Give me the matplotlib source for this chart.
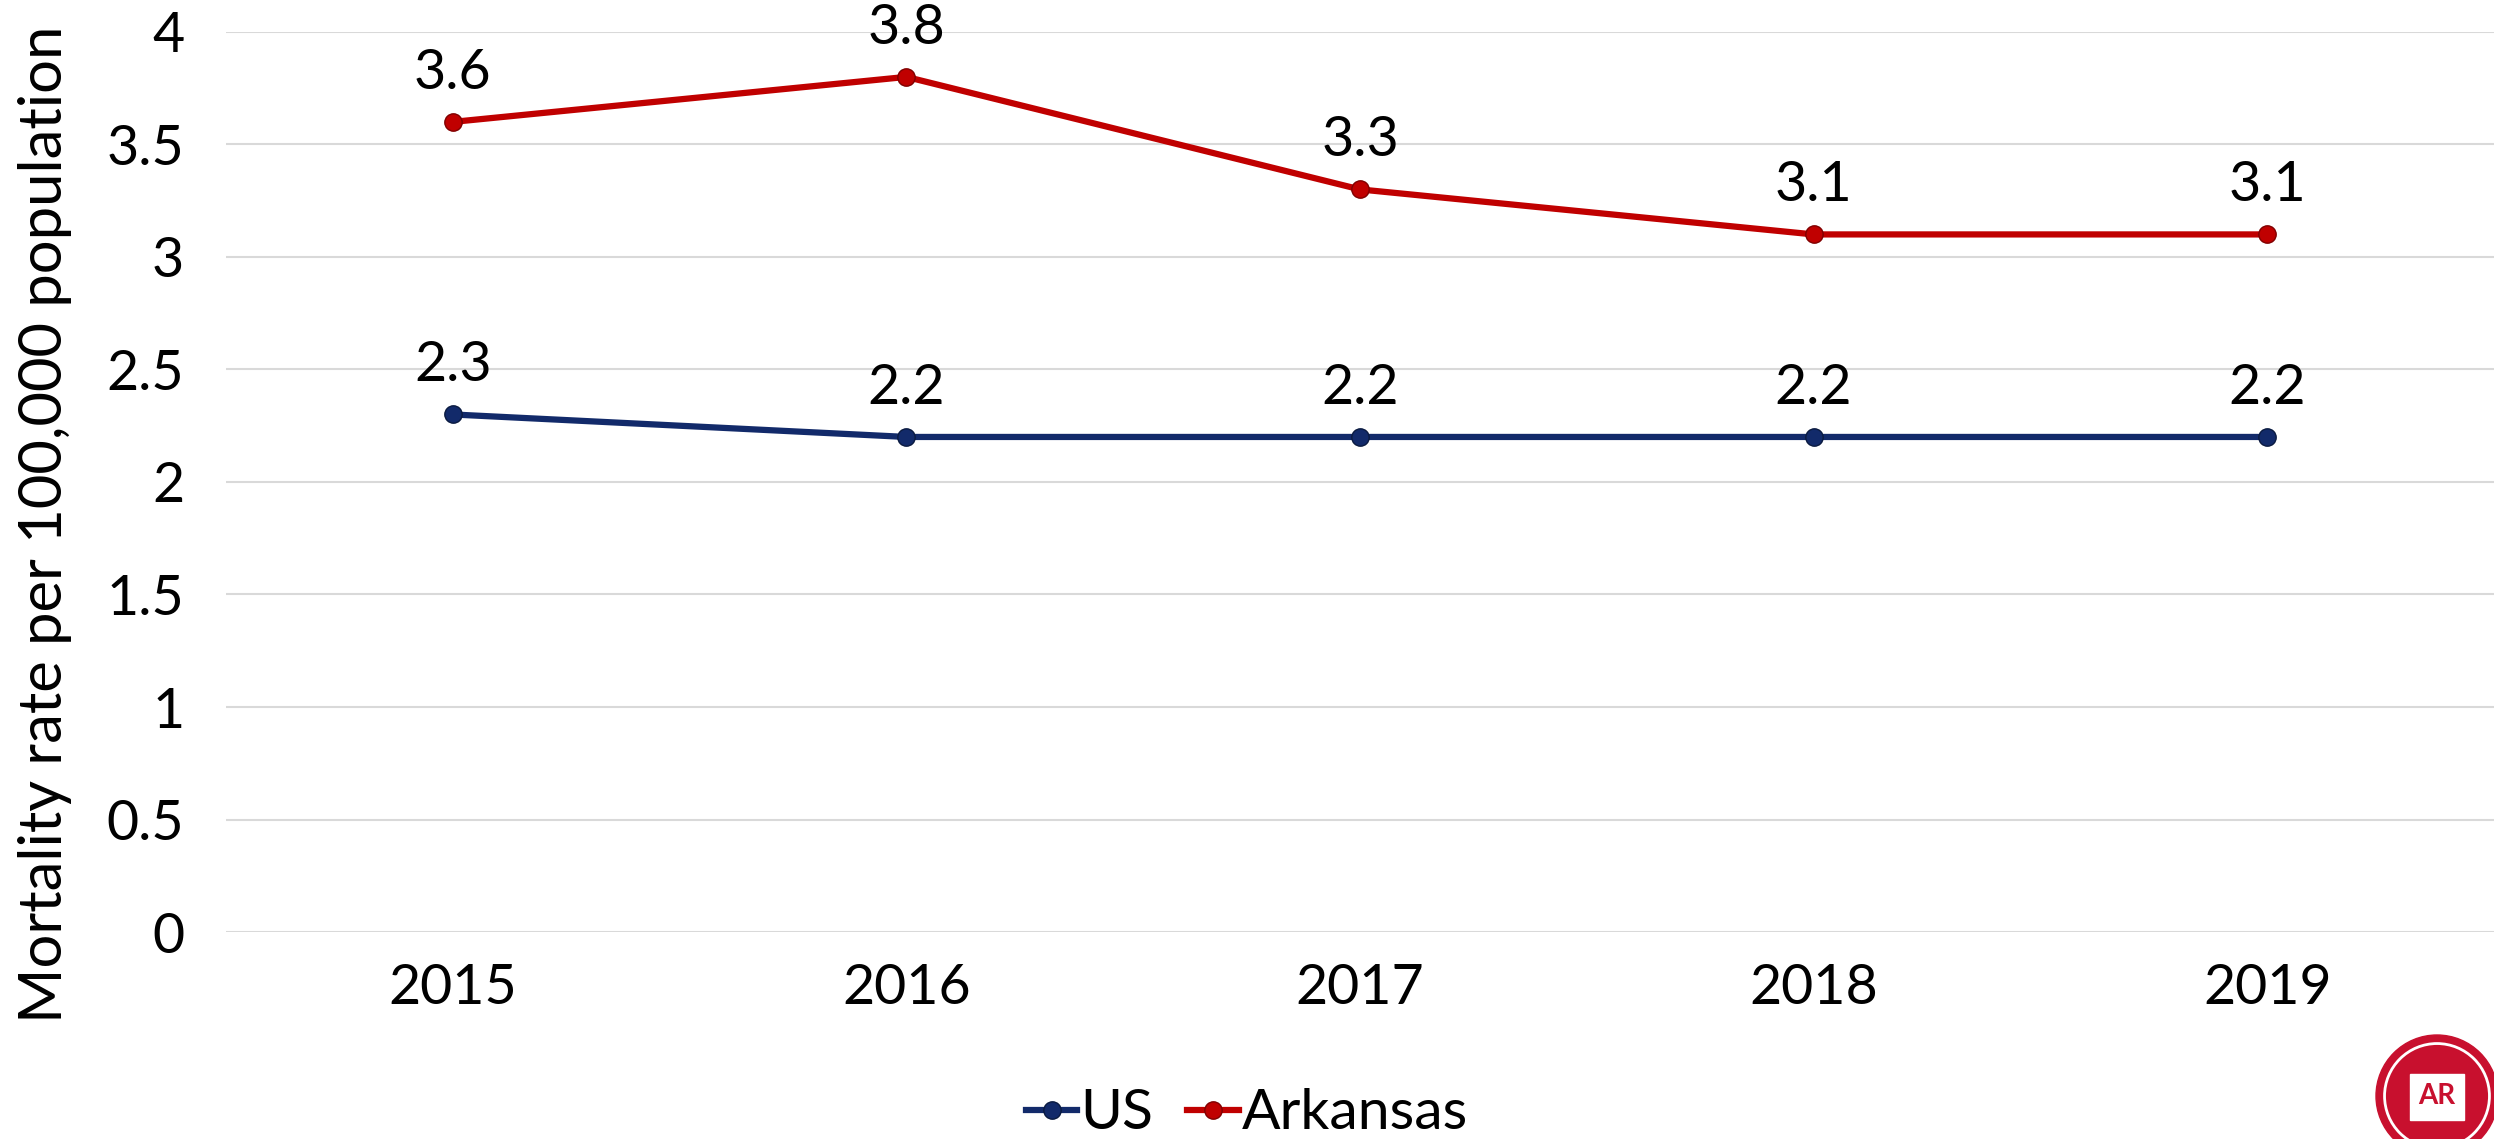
import matplotlib.pyplot as plt
from matplotlib.patches import Ellipse, Rectangle

years = ['2015', '2016', '2017', '2018', '2019']
us = [2.3, 2.2, 2.2, 2.2, 2.2]
arkansas = [3.6, 3.8, 3.3, 3.1, 3.1]
yticks = [0, 0.5, 1, 1.5, 2, 2.5, 3, 3.5, 4]

us_color = '#122a6a'
ar_color = '#c00000'

plt.rcParams['font.family'] = ['Lato', 'DejaVu Sans']

fig = plt.figure(figsize=(24.94, 11.39), dpi=100)
ax = fig.add_axes([0.0906, 0.1817, 0.9094, 0.7903])

x = list(range(len(years)))
ax.plot(x, us, color=us_color, lw=4.5, marker='o', ms=12.5,
        mfc=us_color, mec='#0a1a40', mew=1, label='US')
ax.plot(x, arkansas, color=ar_color, lw=4.5, marker='o', ms=12.5,
        mfc=ar_color, mec='#800000', mew=1, label='Arkansas')

for xi, v in zip(x, us):
    ax.annotate(f'{v:g}', (xi, v), xytext=(0, 35), textcoords='offset points',
                ha='center', va='center', fontsize=40)
for xi, v in zip(x, arkansas):
    ax.annotate(f'{v:g}', (xi, v), xytext=(0, 35), textcoords='offset points',
                ha='center', va='center', fontsize=40, annotation_clip=False)

ax.set_xlim(-0.5, len(years) - 0.5)
ax.set_ylim(0, 4)
ax.set_xticks(x)
ax.set_xticklabels(years, fontsize=40)
ax.set_yticks(yticks)
ax.set_yticklabels([f'{t:g}' for t in yticks], fontsize=40)
ax.tick_params(length=0, pad=30)
ax.tick_params(axis='x', pad=22)
ax.grid(axis='y', color='#d9d9d9', lw=1.5)
ax.set_axisbelow(True)
for s in ax.spines.values():
    s.set_visible(False)

fig.text(0.018, 0.54, 'Mortality rate per 100,000 population', rotation=90,
         ha='center', va='center', fontsize=43,
         family=['Liberation Sans Narrow', 'Lato'])

fig.legend(loc='center', bbox_to_anchor=(0.5, 0.022), ncol=2, frameon=False,
           fontsize=41, handlelength=0.9, handletextpad=0.05, columnspacing=0.6)

# logo in the corner
w, h = 122 / 2494, 122 / 1139
cx, cy = 2437 / 2494, 1 - 1096 / 1139
fig.add_artist(Ellipse((cx, cy), w, h, transform=fig.transFigure, color='#c8102e'))
fig.add_artist(Ellipse((cx, cy), w * 0.86, h * 0.86, transform=fig.transFigure,
                       fill=False, ec='white', lw=2))
fig.add_artist(Rectangle((cx - w * 0.22, cy - h * 0.2), w * 0.44, h * 0.38,
                         transform=fig.transFigure, color='white'))
fig.text(cx, cy, 'AR', ha='center', va='center', fontsize=20, color='#c8102e',
         fontweight='bold')

fig.savefig('out.png', dpi=100)
